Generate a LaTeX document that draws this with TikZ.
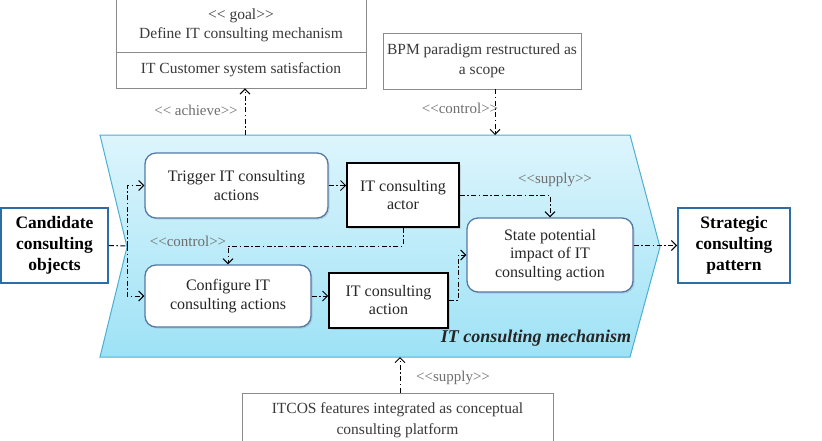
\documentclass[tikz,border=0pt]{standalone}
\usepackage{fontspec}
\setmainfont{Liberation Serif}
\usetikzlibrary{arrows.meta,shadows}
\definecolor{chevtop}{HTML}{DDF5FC}
\definecolor{chevbot}{HTML}{9EE2F6}
\definecolor{chevline}{HTML}{4FAFCF}
\definecolor{bluebox}{HTML}{2E6DA4}
\definecolor{roundline}{HTML}{5579A6}
\definecolor{graytxt}{HTML}{6E6E6E}
\definecolor{darktxt}{HTML}{3A3A3A}
\definecolor{grayline}{HTML}{8A8A8A}
\newcommand{\lt}{{<}{<}}
\newcommand{\gt}{{>}{>}}
\begin{document}
\begin{tikzpicture}[x=1pt,y=-1pt,
  dd/.style={line width=1pt, dash pattern=on 5pt off 2.5pt on 1.5pt off 2.5pt},
  arr/.style={dd,-{Straight Barb[length=5pt,width=10pt,line width=1pt]}},
  rbox/.style={draw=roundline, line width=1.3pt, rounded corners=11pt, fill=white, align=center,
    font=\fontsize{16}{18.5}\selectfont, text=black!85,
    drop shadow={opacity=0.25, shadow xshift=1.5pt, shadow yshift=-1.5pt}},
  kbox/.style={draw=black, line width=1.6pt, fill=white, align=center,
    font=\fontsize{16}{18}\selectfont, text=black!85,
    drop shadow={opacity=0.25, shadow xshift=1.5pt, shadow yshift=-1.5pt}},
  bbox/.style={draw=bluebox, line width=1.8pt, fill=white, align=center,
    font=\bfseries\fontsize{17.5}{21}\selectfont},
  gbox/.style={draw=grayline, line width=0.8pt, fill=white, align=center,
    font=\fontsize{15.5}{19}\selectfont, text=darktxt},
  lbl/.style={font=\fontsize{15}{17}\selectfont, text=graytxt, inner sep=0pt}
]
\clip (0,0) rectangle (822,440);
\useasboundingbox (0,0) rectangle (822,440);

% chevron
\shade[top color=chevtop, bottom color=chevbot, draw=chevline, line width=1pt]
  (100,135) -- (630,135) -- (660,247) -- (630,357) -- (100,357) -- (127,247) -- cycle;
\node[font=\bfseries\itshape\fontsize{18}{20}\selectfont, text=black!85] (mech) at (536,338) {IT consulting mechanism};

\coordinate (notch) at (127,246);
\coordinate (ctop1) at (245,135);
\coordinate (ctop2) at (495,135);
\coordinate (cbot) at (400,357);
\coordinate (c1) at (403,246);
\coordinate (c2) at (228,246);
\coordinate (s1) at (458,300.5);

% top boxes
\node[gbox, minimum width=250pt, minimum height=54pt] (goalA) at (241,25) {\lt~goal\gt\\Define IT consulting mechanism};
\node[gbox, minimum width=250pt, minimum height=36pt] (goalB) at (241,70) {IT Customer system satisfaction};
\node[gbox, minimum width=198pt, minimum height=56pt, font=\fontsize{15.5}{20}\selectfont] (bpm) at (482,61) {BPM paradigm restructured as\\a scope};
\node[gbox, minimum width=311pt, minimum height=54pt, font=\fontsize{15.5}{21}\selectfont] (itcos) at (397.5,420) {ITCOS features integrated as conceptual\\consulting platform};

% inner boxes
\node[rbox, minimum width=183pt, minimum height=65pt] (trig) at (236.5,185.5) {Trigger IT consulting\\actions};
\node[kbox, minimum width=112pt, minimum height=64pt] (act) at (403,195) {IT consulting\\actor};
\node[rbox, minimum width=166pt, minimum height=62pt] (conf) at (228,296) {Configure IT\\consulting actions};
\node[kbox, minimum width=119pt, minimum height=55pt] (act2) at (388.5,300.5) {IT consulting\\action};
\node[rbox, minimum width=166pt, minimum height=74pt] (state) at (550,255) {State potential\\impact of IT\\consulting action};

% side boxes
\node[bbox, minimum width=107pt, minimum height=75pt] (cand) at (54.5,245.5) {Candidate\\consulting\\objects};
\node[bbox, minimum width=112pt, minimum height=75pt] (strat) at (734,245.5) {Strategic\\consulting\\pattern};

% connectors
\draw[dd] (cand.east) -- (notch);
\draw[arr] (notch) |- (trig.west);
\draw[arr] (notch) |- (conf.west);
\draw[arr] (trig.east) -- (trig.east -| act.west);
\draw[arr] (conf.east) -- (conf.east -| act2.west);
\draw[arr] (act.south) -- (c1) -- (c2) -- (conf.north);
\draw[arr] (act.east) -| (state.north);
\draw[arr] (act2.east) -- (s1) |- (state.west);
\draw[arr] (state.east |- strat.west) -- (strat.west);
\draw[arr] (ctop1) -- (ctop1 |- goalB.south);
\draw[arr] (bpm.south -| ctop2) -- (ctop2);
\draw[arr] (itcos.north -| cbot) -- (cbot);

% labels
\node[lbl] (l1) at (196,110) {\lt~achieve\gt};
\node[lbl] (l2) at (460,108) {\lt control\gt};
\node[lbl] (l3) at (555,180) {\lt supply\gt};
\node[lbl] (l4) at (188,241) {\lt control\gt};
\node[lbl] (l5) at (453,378) {\lt supply\gt};
\end{tikzpicture}
\end{document}
